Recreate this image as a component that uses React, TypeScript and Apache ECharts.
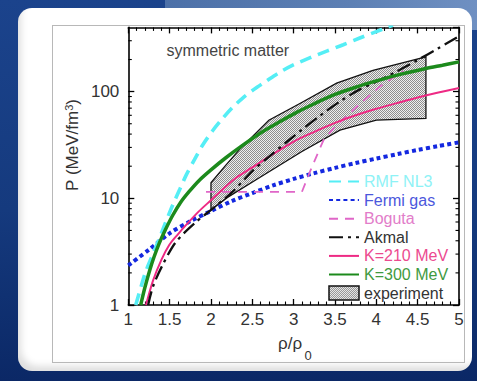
import React, { useEffect, useRef } from "react";
import * as echarts from "echarts";

const FONT = "'Liberation Sans', Arial, Helvetica, sans-serif";

// ---- data (x = rho/rho0, y = P in MeV/fm^3) ----
const rmfNL3: [number, number][] = [
  [1.09, 1.0], [1.15, 1.45], [1.21, 2.05], [1.29, 2.9], [1.375, 4.2], [1.45, 5.9], [1.536, 8.6],
  [1.62, 12], [1.7, 16.5], [1.8, 23], [1.9, 31.6], [2.02, 43], [2.14, 56], [2.26, 71],
  [2.38, 86.5], [2.52, 105], [2.66, 124], [2.82, 150], [2.99, 177], [3.2, 208], [3.4, 240],
  [3.6, 275], [3.8, 318], [4.0, 365], [4.1, 392], [4.2, 420],
];
const fermiGas: [number, number][] = [
  [1, 2.35], [1.25, 3.3], [1.5, 4.7], [1.75, 6.1], [2, 7.6], [2.25, 9.4], [2.5, 11.2],
  [2.75, 13.2], [3, 15.2], [3.25, 17.2], [3.5, 19.3], [3.75, 21.4], [4, 23.6],
  [4.25, 25.9], [4.5, 28.4], [4.75, 30.9], [5, 33.5],
];
const boguta: [number, number][] = [
  [1.94, 11.5], [3.1, 11.5], [3.2, 18], [3.36, 35], [3.48, 45], [3.76, 72], [4.04, 111],
  [4.2, 135], [4.33, 155],
];
const akmal: [number, number][] = [
  [1.24, 1.0], [1.3, 1.5], [1.415, 2.37], [1.576, 3.9], [1.82, 6.0], [2.02, 8.0], [2.26, 11.5],
  [2.5, 18], [2.7, 24.5], [2.9, 33], [3.1, 44], [3.3, 58], [3.55, 80], [3.8, 105],
  [4.0, 124], [4.25, 155], [4.5, 198], [4.75, 255], [5.0, 330],
];
const k210: [number, number][] = [
  [1.214, 1.0], [1.3, 1.7], [1.4, 2.65], [1.495, 3.65], [1.6, 4.6], [1.697, 5.6], [1.85, 7.5],
  [2.0, 9.6], [2.15, 12.3], [2.3, 15.5], [2.5, 19.5], [2.7, 24.5], [3.0, 34], [3.25, 42],
  [3.5, 51], [3.75, 60], [4.0, 69], [4.25, 78], [4.5, 88], [4.75, 98], [5.0, 108],
];
const k300: [number, number][] = [
  [1.15, 1.0], [1.2, 1.45], [1.254, 2.05], [1.31, 2.8], [1.375, 3.8], [1.45, 5.1], [1.536, 6.9],
  [1.63, 9.1], [1.737, 11.6], [1.86, 14.8], [2.0, 18.5], [2.18, 24], [2.36, 30.5], [2.6, 41],
  [2.8, 50.5], [3.03, 63.5], [3.25, 77], [3.5, 94], [3.75, 110], [4.0, 126], [4.3, 146],
  [4.6, 165], [4.8, 177], [5.0, 190],
];
const experimentBand: [number, number][] = [
  [2.0, 14], [2.18, 20.5], [2.36, 29.5], [2.7, 54], [3.07, 77], [3.52, 120], [3.96, 158],
  [4.6, 212], [4.6, 56], [4.0, 54], [3.56, 43.5], [3.1, 27.5], [2.58, 15.5], [2.2, 10.2],
  [2.0, 7.8],
];
const yMinorTicks = [2, 3, 4, 5, 6, 7, 8, 9, 20, 30, 40, 50, 60, 70, 80, 90, 200, 300];

const checkerSvg =
  "<svg xmlns='http://www.w3.org/2000/svg' width='2' height='2' shape-rendering='crispEdges'>" +
  "<rect width='2' height='2' fill='#efefef'/><rect width='1' height='1' fill='#8e8e8e'/>" +
  "<rect x='1' y='1' width='1' height='1' fill='#8e8e8e'/></svg>";
const checker: any = {
  image: "data:image/svg+xml;charset=utf-8," + encodeURIComponent(checkerSvg),
  repeat: "repeat",
  imageWidth: 2,
  imageHeight: 2,
};

function lineSeries(name: string, data: [number, number][], color: string, width: number, type: any, smooth: number | boolean, z: number) {
  return {
    type: "line",
    name,
    data,
    symbol: "none",
    showSymbol: false,
    smooth,
    silent: true,
    z,
    lineStyle: { color, width, type, cap: "butt" },
    itemStyle: { color },
  };
}

const hiddenSymbol = { opacity: 0, borderWidth: 0 };

export default function App() {
  const ref = useRef<HTMLDivElement>(null);
  useEffect(() => {
    const chart = echarts.init(ref.current!, null, { renderer: "svg" });
    const axisLine = { show: true, onZero: false, lineStyle: { color: "#000", width: 1.6 } };
    const tick = { show: true, inside: true, length: 6, lineStyle: { color: "#000", width: 1.3 } };
    const minorTick = { show: true, splitNumber: 5, length: 3.5, lineStyle: { color: "#000", width: 1.1 } };
    const option: any = {
      animation: false,
      grid: { left: 128.3, right: 18, top: 27.4, bottom: 76 },
      xAxis: [
        {
          type: "value", min: 1, max: 5, interval: 0.5, position: "bottom",
          axisLine, axisTick: tick, minorTick,
          splitLine: { show: false },
          axisLabel: { fontSize: 17, color: "#333", fontFamily: FONT, margin: 6 },
        },
        {
          type: "value", min: 1, max: 5, interval: 0.5, position: "top",
          axisLine, axisTick: tick, minorTick,
          splitLine: { show: false }, axisLabel: { show: false },
        },
      ],
      yAxis: [
        {
          type: "log", logBase: 10, min: 1, max: 400, position: "left",
          axisLine, axisTick: tick,
          splitLine: { show: false },
          axisLabel: { fontSize: 17, color: "#333", fontFamily: FONT, margin: 9, showMaxLabel: false },
        },
        {
          type: "log", logBase: 10, min: 1, max: 400, position: "right",
          axisLine, axisTick: tick,
          splitLine: { show: false }, axisLabel: { show: false },
        },
      ],
      legend: {
        orient: "vertical",
        left: 328,
        top: 173.5,
        padding: 0,
        itemWidth: 30,
        itemHeight: 14,
        itemGap: 2.6,
        align: "left",
        selectedMode: false,
        textStyle: { fontSize: 16, fontFamily: FONT, lineHeight: 16 },
        data: [
          { name: "RMF NL3", itemStyle: hiddenSymbol, textStyle: { color: "#8ef2f6" } },
          { name: "Fermi gas", itemStyle: hiddenSymbol, textStyle: { color: "#4b57dc" } },
          { name: "Boguta", itemStyle: hiddenSymbol, textStyle: { color: "#e27cc9" } },
          { name: "Akmal", itemStyle: hiddenSymbol, textStyle: { color: "#333" } },
          { name: "K=210 MeV", itemStyle: hiddenSymbol, textStyle: { color: "#ec4a8f" } },
          { name: "K=300 MeV", itemStyle: hiddenSymbol, textStyle: { color: "#3f9a3f" } },
          { name: "experiment", icon: "rect", textStyle: { color: "#333" }, itemStyle: { color: checker, borderColor: "#111", borderWidth: 1.5 } },
        ],
      },
      graphic: [
        {
          type: "text", x: 166.5, y: 50.7, silent: true,
          style: { text: "symmetric matter", fontSize: 16, fontFamily: FONT, fill: "#444", verticalAlign: "middle", align: "left" },
        },
        {
          type: "text", x: 72, y: 145, rotation: Math.PI / 2, silent: true,
          style: {
            text: "P (MeV/fm{sup|3})", fontSize: 17, fontFamily: FONT, fill: "#333",
            align: "center", verticalAlign: "middle",
            rich: { sup: { fontSize: 11, fontFamily: FONT, fill: "#333", verticalAlign: "top" } },
          },
        },
        {
          type: "text", x: 278, y: 343.5, silent: true,
          style: { text: "ρ/ρ", fontSize: 17, fontFamily: FONT, fill: "#333", verticalAlign: "middle", align: "left" },
        },
        {
          type: "text", x: 304.5, y: 355, silent: true,
          style: { text: "0", fontSize: 13, fontFamily: FONT, fill: "#333", verticalAlign: "middle", align: "left" },
        },
      ],
      series: [
        {
          type: "custom", name: "experiment", silent: true, z: 1,
          data: [experimentBand[0]],
          itemStyle: { color: checker },
          renderItem: (_p: any, api: any) => ({
            type: "polygon",
            shape: { points: experimentBand.map((pt) => api.coord(pt)) },
            style: { fill: checker, stroke: "#111", lineWidth: 1.3 },
          }),
        },
        lineSeries("Fermi gas", fermiGas, "#1428e0", 4, [4, 3.2], 0.3, 3),
        lineSeries("RMF NL3", rmfNL3, "#55eef5", 3.6, [12, 7], 0.3, 3),
        lineSeries("Boguta", boguta, "#e066c8", 1.8, [9, 7], false, 4),
        lineSeries("K=210 MeV", k210, "#ee2a84", 2, "solid", 0.3, 4),
        lineSeries("Akmal", akmal, "#111111", 2.3, [14, 5, 3, 5], 0.3, 5),
        lineSeries("K=300 MeV", k300, "#1c8a1c", 3.5, "solid", 0.3, 6),
        {
          type: "custom", name: "minorY", silent: true, z: 7, clip: false,
          data: yMinorTicks.map((v) => [1, v]),
          renderItem: (_p: any, api: any) => {
            const v = api.value(1);
            const l = api.coord([1, v]);
            const r = api.coord([5, v]);
            return {
              type: "group",
              children: [
                { type: "line", shape: { x1: l[0], y1: l[1], x2: l[0] + 3.5, y2: l[1] }, style: { stroke: "#000", lineWidth: 1.1 } },
                { type: "line", shape: { x1: r[0], y1: r[1], x2: r[0] - 3.5, y2: r[1] }, style: { stroke: "#000", lineWidth: 1.1 } },
              ],
            };
          },
        },
      ],
    };
    chart.setOption(option);
    return () => chart.dispose();
  }, []);

  return (
    <div
      style={{
        position: "fixed", left: 0, top: 0, width: 477, height: 381, overflow: "hidden",
        background: "linear-gradient(180deg, #1b438c 0%, #153a7e 55%, #0b2866 100%)",
      }}
    >
      <div style={{ position: "absolute", left: 165, top: 0, width: 312, height: 30, background: "linear-gradient(90deg, #4c70a8 0%, #5d80b4 60%, #6f90c2 100%)" }} />
      <div
        style={{
          position: "absolute", left: 18, top: 8, width: 454, height: 363, borderRadius: 14,
          background: "#ffffff",
          boxShadow: "inset 6px -8px 7px -3px rgba(0,0,0,0.13)",
        }}
      />
      <div style={{ position: "absolute", left: 52, top: 25, width: 411, height: 336, border: "1px solid #b8b8b8" }} />
      <div ref={ref} style={{ position: "absolute", left: 0, top: 0, width: 477, height: 381 }} />
    </div>
  );
}
